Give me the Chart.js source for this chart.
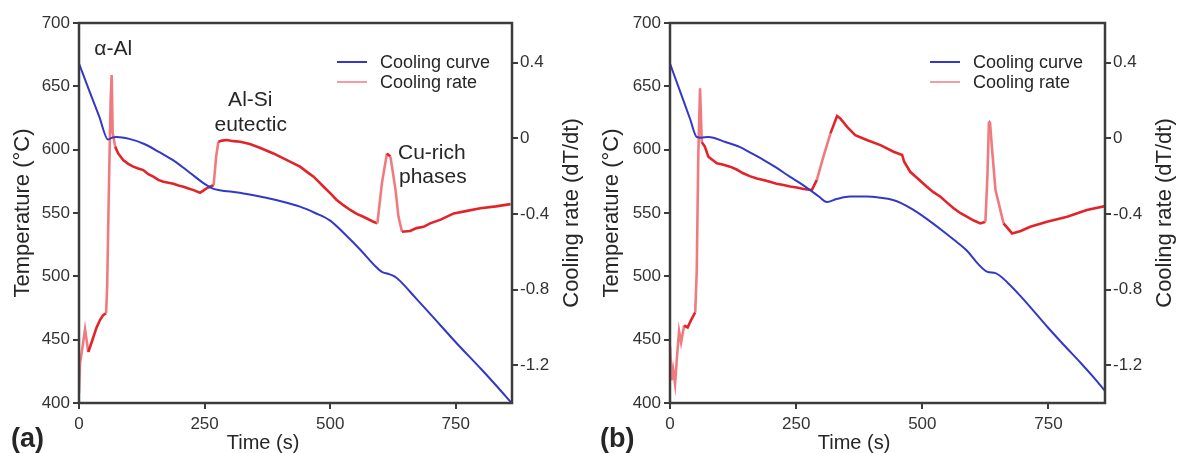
<!DOCTYPE html>
<html>
<head>
<meta charset="utf-8">
<title>Cooling curves</title>
<script src="https://cdn.jsdelivr.net/npm/chart.js@4"></script>
<style>
  html, body { margin: 0; padding: 0; background: #fff; }
  #wrap { position: relative; width: 1178px; height: 453px; }
  .panel { position: absolute; top: 0; width: 589px; height: 453px; }
</style>
</head>
<body>
<div id="wrap">
  <div class="panel" style="left:0"><canvas id="chartA" width="589" height="453"></canvas></div>
  <div class="panel" style="left:589px"><canvas id="chartB" width="589" height="453"></canvas></div>
</div>
<script>
// tick labels shared by both panels
const timeTicks = [0, 250, 500, 750];
const tempTicks = [400, 450, 500, 550, 600, 650, 700];
const rateTicks = [0.4, 0, -0.4, -0.8, -1.2];

// panel (a) - cooling curve (temperature, °C)
const curveTimeA = [0, 20, 40, 58, 66, 75, 100, 130, 160, 190, 220, 250, 268, 280, 320, 360, 400, 440, 470, 500,
  530, 560, 590, 603, 615, 628, 640, 670, 700, 750, 800, 830, 860];
const curveTempA = [668, 647, 626.5, 608, 609.5, 610, 608.5, 604.5, 598, 591, 582, 573, 569, 568, 566, 563, 559.5, 555, 550, 544,
  533, 521, 508, 503.5, 502, 500, 496, 483, 470, 448, 427, 414, 400.5];

// panel (a) - cooling rate (dT/dt)
const rateTimeA = [0, 2, 5, 12, 18.5, 25, 35, 42, 48, 54, 56, 60, 63, 65, 67, 72, 78, 88, 98, 108,
  118, 128, 138, 148, 158, 168, 178, 188, 198, 208, 218, 228, 241, 254, 268, 273, 277.5, 285, 294, 308,
  321, 340, 360, 387, 407, 425, 440, 455, 467, 487, 500, 513, 527, 540, 553, 566, 586, 594, 603, 613,
  620, 630, 636, 643, 659, 672, 686, 699, 720, 746, 770, 799, 830, 859];
const rateA = [-1.35, -1.19, -1.14, -1.01, -1.13, -1.08, -1.00, -0.96, -0.935, -0.925, -0.79, -0.2, 0.2, 0.335, 0.03, -0.044, -0.08, -0.115, -0.135, -0.15,
  -0.16, -0.168, -0.19, -0.203, -0.22, -0.23, -0.235, -0.24, -0.25, -0.256, -0.265, -0.274, -0.288, -0.265, -0.247, -0.097, -0.018, -0.012, -0.009, -0.015,
  -0.018, -0.03, -0.05, -0.08, -0.106, -0.13, -0.15, -0.18, -0.203, -0.256, -0.29, -0.326, -0.355, -0.379, -0.4, -0.415, -0.441, -0.45, -0.238, -0.08,
  -0.097, -0.27, -0.415, -0.494, -0.49, -0.475, -0.468, -0.45, -0.43, -0.397, -0.385, -0.37, -0.36, -0.348];

// panel (b) - cooling curve
const curveTimeB = [0, 20, 40, 53, 62, 76, 110, 139, 160, 185, 210, 238, 260, 278, 295, 311, 330, 357, 390, 417,
  440, 457, 480, 510, 540, 562, 589, 610, 629, 645, 669, 700, 748, 780, 814, 840, 863];
const curveTempB = [668, 646, 624, 610, 609.5, 610, 606, 602, 597.5, 592, 586, 578.5, 573, 568, 563, 558.7, 561, 563, 563, 562,
  560.5, 558, 553, 545, 536, 529, 520, 510, 503.5, 502.5, 495, 482, 460, 446, 431.6, 420, 409];

// panel (b) - cooling rate
const rateTimeB = [0, 3, 6, 10, 14, 18, 22, 28, 35, 42, 50, 53, 56, 59.5, 63, 69, 76, 93, 106, 119,
  132, 145, 158, 172, 185, 198, 211, 225, 238, 251, 265, 281, 291, 304, 318, 331, 337, 351, 367, 390,
  417, 443, 460, 464, 476, 492, 509, 522, 536, 549, 562, 575, 589, 602, 615, 625, 629, 632, 634, 638,
  645, 661, 678, 695, 714, 747, 787, 826, 863];
const rateB = [-1.10, -1.28, -1.22, -1.30, -1.15, -1.02, -1.08, -0.99, -1.00, -0.96, -0.92, -0.70, -0.1, 0.265, -0.02, -0.044, -0.097, -0.132, -0.14, -0.15,
  -0.165, -0.185, -0.2, -0.212, -0.22, -0.23, -0.24, -0.247, -0.255, -0.26, -0.268, -0.274, -0.22, -0.097, 0.026, 0.118, 0.106, 0.061, 0.017, -0.009,
  -0.036, -0.071, -0.088, -0.124, -0.177, -0.215, -0.256, -0.285, -0.309, -0.34, -0.37, -0.395, -0.415, -0.435, -0.45, -0.441, -0.2, 0.088, 0.088, -0.05,
  -0.274, -0.45, -0.503, -0.49, -0.468, -0.441, -0.415, -0.379, -0.358];

// annotations (positions in data units: time, temperature)
const notesA = [
  { text: 'α-Al', t: 68, T: 679, align: 'center' },
  { text: 'Al-Si', t: 341, T: 639, align: 'center' },
  { text: 'eutectic', t: 342, T: 619, align: 'center' },
  { text: 'Cu-rich', t: 635, T: 597.5, align: 'left' },
  { text: 'phases', t: 637, T: 578.5, align: 'left' }
];

const FONT = '"Liberation Sans", Arial, Helvetica, sans-serif';
const blue = '#3238c8';
const red = '#e2242a';
const redLight = '#f07b7f';
const axisColor = '#3c3c3c';
const textColor = '#262626';

function toPoints(xs, ys) {
  return xs.map((x, i) => ({ x: x, y: ys[i] }));
}

// draws the box, axis titles, legend, panel label and notes
const panelDecor = {
  id: 'panelDecor',
  afterDraw(chart, args, opts) {
    const { ctx, chartArea: a, scales } = chart;
    ctx.save();

    // frame round the plot
    ctx.strokeStyle = axisColor;
    ctx.lineWidth = 2.5;
    ctx.strokeRect(a.left, a.top, a.right - a.left, a.bottom - a.top);

    ctx.fillStyle = textColor;
    ctx.textBaseline = 'middle';

    // left axis title
    const midY = (a.top + a.bottom) / 2;
    ctx.font = '22px ' + FONT;
    ctx.textAlign = 'center';
    ctx.save();
    ctx.translate(23, midY);
    ctx.rotate(-Math.PI / 2);
    ctx.fillText('Temperature (°C)', 0, 0);
    ctx.restore();

    // right axis title (reads bottom to top too)
    ctx.save();
    ctx.translate(a.right + 60, midY);
    ctx.rotate(-Math.PI / 2);
    ctx.fillText('Cooling rate (dT/dt)', 0, 0);
    ctx.restore();

    // x axis title
    ctx.font = '20px ' + FONT;
    ctx.fillText('Time (s)', a.left + 184, 443);

    // panel label
    ctx.font = 'bold 27px ' + FONT;
    ctx.textAlign = 'left';
    ctx.fillText(opts.label, 11, 440);

    // legend
    ctx.font = '18px ' + FONT;
    chart.data.datasets.forEach((ds, i) => {
      const y = 62 + i * 20;
      ctx.strokeStyle = i === 0 ? ds.borderColor : redLight;
      ctx.lineWidth = i === 0 ? 2 : 1.5;
      ctx.beginPath();
      ctx.moveTo(a.right - 175, y);
      ctx.lineTo(a.right - 145, y);
      ctx.stroke();
      ctx.fillText(ds.label, a.right - 132, y + 1);
    });

    // notes
    ctx.font = '21px ' + FONT;
    (opts.notes || []).forEach(n => {
      ctx.textAlign = n.align;
      ctx.fillText(n.text, scales.x.getPixelForValue(n.t), scales.y.getPixelForValue(n.T));
    });

    ctx.restore();
  }
};

function buildChart(canvasId, cfg) {
  const tickFont = { family: FONT, size: 17 };
  const gridOpts = { drawOnChartArea: false, drawTicks: true, tickLength: 6, color: axisColor, lineWidth: 2 };

  return new Chart(document.getElementById(canvasId), {
    type: 'line',
    data: {
      datasets: [
        {
          label: 'Cooling curve',
          data: toPoints(cfg.curveTime, cfg.curveTemp),
          yAxisID: 'y',
          borderColor: blue,
          borderWidth: 2,
          pointRadius: 0,
          cubicInterpolationMode: 'monotone'
        },
        {
          label: 'Cooling rate',
          data: toPoints(cfg.rateTime, cfg.rate),
          yAxisID: 'y1',
          borderColor: red,
          borderWidth: 2.6,
          pointRadius: 0,
          tension: 0,
          segment: {
            // steep parts look thin and pale in the original
            borderColor: c => Math.abs(c.p1.y - c.p0.y) > 2.5 * Math.abs(c.p1.x - c.p0.x) + 5 ? redLight : undefined
          }
        }
      ]
    },
    options: {
      responsive: false,
      animation: false,
      layout: { padding: { top: 23 } },
      plugins: {
        legend: { display: false },
        tooltip: { enabled: false },
        panelDecor: { label: cfg.label, notes: cfg.notes }
      },
      scales: {
        x: {
          type: 'linear',
          min: 0,
          max: 862,
          afterFit: s => { s.height = 50; },
          afterBuildTicks: s => { s.ticks = timeTicks.map(v => ({ value: v })); },
          border: { display: false },
          grid: gridOpts,
          ticks: { font: tickFont, color: '#333', padding: 5, maxRotation: 0 }
        },
        y: {
          position: 'left',
          min: 400,
          max: 700,
          afterFit: s => { s.width = cfg.leftW; },
          afterBuildTicks: s => { s.ticks = tempTicks.map(v => ({ value: v })); },
          border: { display: false },
          grid: gridOpts,
          ticks: { font: tickFont, color: '#333', padding: 3 }
        },
        y1: {
          position: 'right',
          min: -1.4,
          max: 0.61,
          afterFit: s => { s.width = cfg.rightW; },
          afterBuildTicks: s => { s.ticks = rateTicks.map(v => ({ value: v })); },
          border: { display: false },
          grid: gridOpts,
          ticks: { font: tickFont, color: '#333', padding: 2, callback: v => String(v) }
        }
      }
    },
    plugins: [panelDecor]
  });
}

buildChart('chartA', {
  label: '(a)', notes: notesA, leftW: 79, rightW: 77,
  curveTime: curveTimeA, curveTemp: curveTempA, rateTime: rateTimeA, rate: rateA
});
buildChart('chartB', {
  label: '(b)', notes: [], leftW: 81, rightW: 73,
  curveTime: curveTimeB, curveTemp: curveTempB, rateTime: rateTimeB, rate: rateB
});
</script>
</body>
</html>
